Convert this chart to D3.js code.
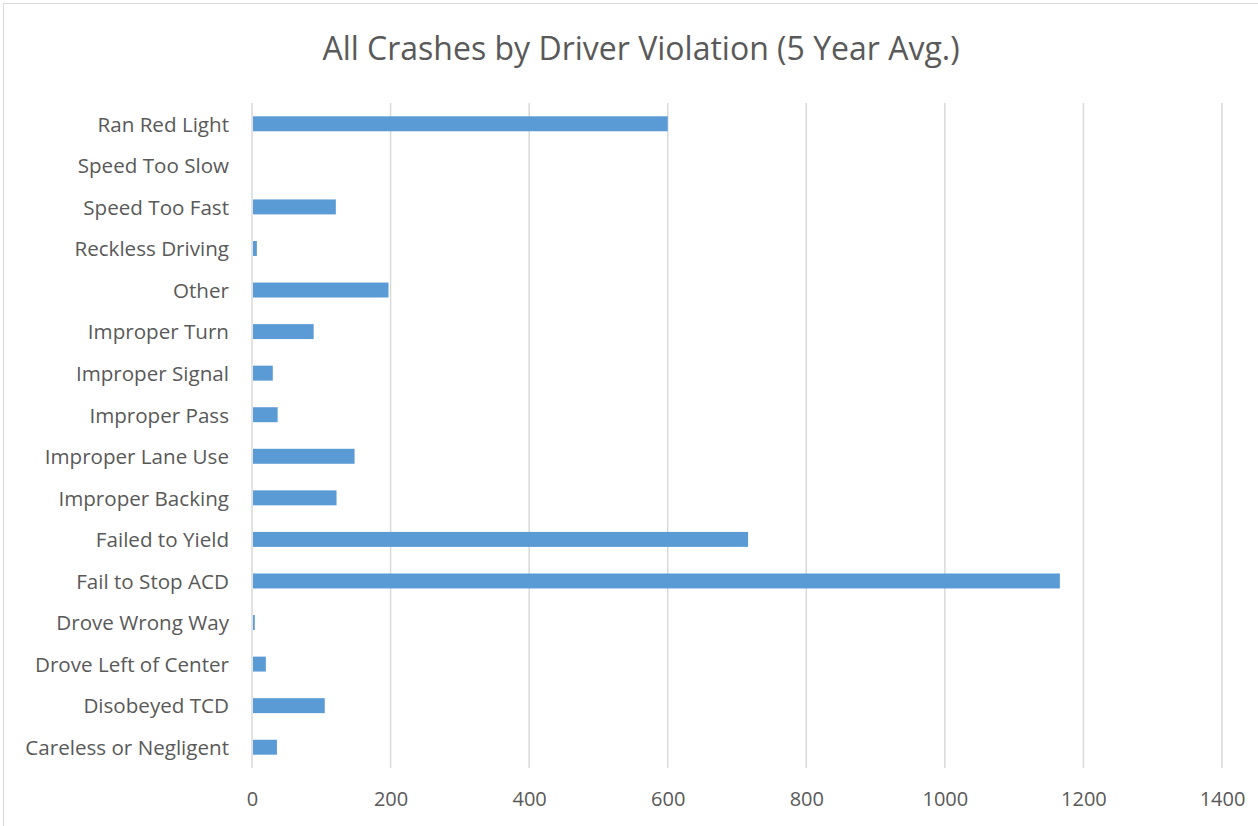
<!DOCTYPE html>
<html><head><meta charset="utf-8">
<script src="https://cdn.jsdelivr.net/npm/d3@7"></script>
<style>body{margin:0;background:#fff;}svg{display:block;}</style>
</head><body>
<svg id="chart" width="1258" height="826"></svg>
<script>
const categories = ["Ran Red Light","Speed Too Slow","Speed Too Fast","Reckless Driving","Other","Improper Turn","Improper Signal","Improper Pass","Improper Lane Use","Improper Backing","Failed to Yield","Fail to Stop ACD","Drove Wrong Way","Drove Left of Center","Disobeyed TCD","Careless or Negligent"];
const values = [600,1,121,7,197,89,30,37,148,122,716,1166,4,20,105,36];
const xTicks = [0,200,400,600,800,1000,1200,1400];
const title = "All Crashes by Driver Violation (5 Year Avg.)";

const svg = d3.select("#chart");
const font = "'Open Sans', Lato, sans-serif";
const textColor = "#595959";

svg.append("rect").attr("x",3.5).attr("y",3.5).attr("width",1270).attr("height",840)
  .attr("fill","#fff").attr("stroke","#d9d9d9");

const m = {left:252, right:1222, top:103, bottom:768};
const x = d3.scaleLinear().domain([0,1400]).range([m.left,m.right]);
const y = d3.scaleBand().domain(categories).range([m.top,m.bottom]).paddingInner(0.64).paddingOuter(0.32);

svg.append("g").selectAll("line").data(xTicks).join("line")
  .attr("x1",d=>x(d)).attr("x2",d=>x(d)).attr("y1",m.top).attr("y2",m.bottom)
  .attr("stroke","#d9d9d9").attr("stroke-width",1.5);

svg.append("g").selectAll("rect").data(categories).join("rect")
  .attr("x",x(0)+1).attr("y",d=>y(d))
  .attr("width",(d,i)=>Math.max(0,x(values[i])-x(0)-1)).attr("height",y.bandwidth())
  .attr("fill","#5b9bd5");

const xAxis = svg.append("g").attr("transform",`translate(0,${m.bottom})`)
  .call(d3.axisBottom(x).tickValues(xTicks).tickSize(0).tickPadding(24).tickFormat(d3.format("d")));
xAxis.select(".domain").remove();
xAxis.selectAll("text").attr("font-family",font).attr("font-size",20).attr("fill",textColor);

const yAxis = svg.append("g").attr("transform",`translate(${m.left},0)`)
  .call(d3.axisLeft(y).tickSize(0).tickPadding(23));
yAxis.select(".domain").remove();
yAxis.selectAll("text").attr("font-family",font).attr("font-size",20.6).attr("fill",textColor).attr("dy","0.38em");

svg.append("text").attr("x",641).attr("y",60).attr("text-anchor","middle")
  .attr("font-family",font).attr("font-size",32).attr("fill",textColor).text(title);
</script>
</body></html>
